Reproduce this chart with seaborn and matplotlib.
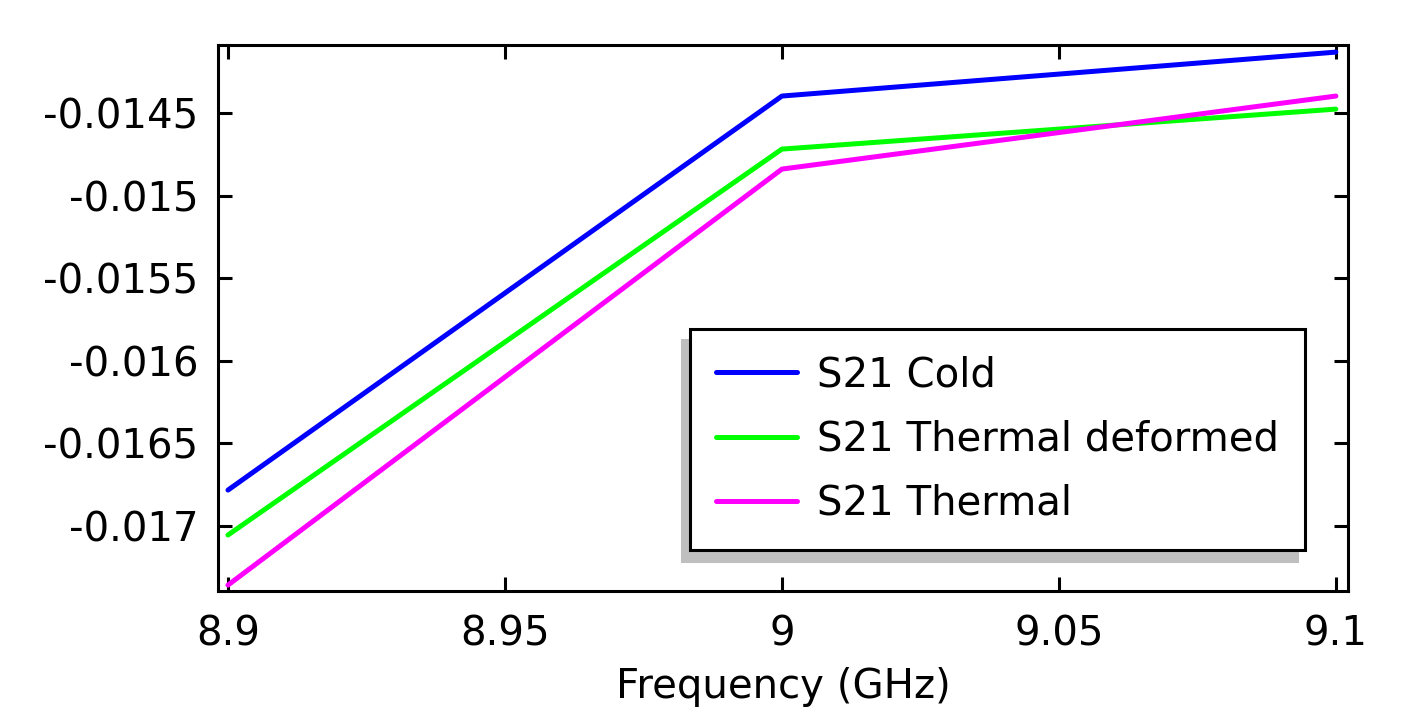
import pandas as pd
import matplotlib.pyplot as plt
import seaborn as sns

# data
freq = [8.9, 9.0, 9.1]
s21_cold = [-0.016782, -0.014397, -0.014131]
s21_thermal_deformed = [-0.017054, -0.014718, -0.014476]
s21_thermal = [-0.017357, -0.014839, -0.014397]
series_names = ["S21 Cold", "S21 Thermal deformed", "S21 Thermal"]
series_colors = ["#0000ff", "#00ff00", "#ff00ff"]

rows = []
for name, vals in zip(series_names, [s21_cold, s21_thermal_deformed, s21_thermal]):
    for f, v in zip(freq, vals):
        rows.append({"Frequency": f, "S21": v, "Series": name})
df = pd.DataFrame(rows)

sns.set_style("ticks")
plt.rcParams["font.family"] = ["DejaVu Sans"]
plt.rcParams["text.color"] = "black"
plt.rcParams["axes.labelcolor"] = "black"

fig = plt.figure(figsize=(14.12, 7.19), dpi=100)
ax = fig.add_axes([0.1544, 0.178, 0.8003, 0.7594])

sns.lineplot(data=df, x="Frequency", y="S21", hue="Series", hue_order=series_names,
             palette=dict(zip(series_names, series_colors)), linewidth=3.6, ax=ax)

ax.set_xlim(8.8982, 9.1022)
ax.set_ylim(-0.017393, -0.014088)
ax.set_xticks([8.9, 8.95, 9.0, 9.05, 9.1])
ax.set_xticklabels(["8.9", "8.95", "9", "9.05", "9.1"])
ax.set_yticks([-0.0145, -0.015, -0.0155, -0.016, -0.0165, -0.017])
ax.set_yticklabels(["-0.0145", "-0.015", "-0.0155", "-0.016", "-0.0165", "-0.017"])

for sp in ax.spines.values():
    sp.set_visible(True)
    sp.set_linewidth(2.2)
    sp.set_color("black")
ax.tick_params(direction="in", top=True, right=True, length=10, width=2.2,
               labelsize=29, colors="black")
ax.tick_params(axis="x", pad=17)
ax.tick_params(axis="y", pad=14)

ax.set_xlabel("Frequency (GHz)", fontsize=29, labelpad=9, color="black")
ax.set_ylabel("")

leg = ax.legend(loc="lower right", bbox_to_anchor=(0.962, 0.075), borderaxespad=0,
                fontsize=29, frameon=True, fancybox=False, framealpha=1,
                edgecolor="black", handlelength=2.0, handletextpad=0.5,
                labelspacing=0.6, borderpad=0.65,
                shadow={"ox": -6, "oy": -8, "color": "0.75", "alpha": 1})
leg.get_frame().set_linewidth(2.2)
for t in leg.get_texts():
    t.set_color("black")

fig.savefig("out.png", dpi=100)
